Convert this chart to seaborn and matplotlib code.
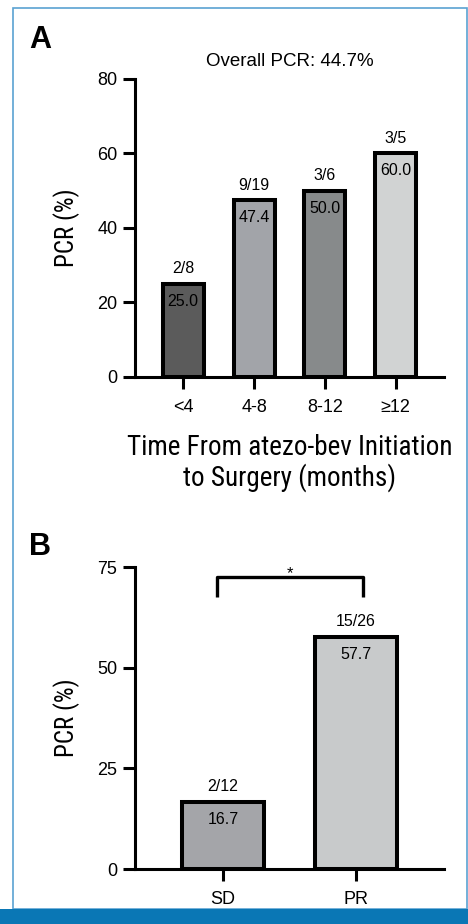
"""Pathologic complete response by time to surgery (A) and by radiologic response (B)."""

import matplotlib

matplotlib.use("Agg")
import matplotlib.pyplot as plt
import matplotlib.patches as mpatches
import seaborn as sns

# ---- data ---------------------------------------------------------------------
A_GROUPS = ["<4", "4-8", "8-12", "≥12"]
A_PCR = [25.0, 47.4, 50.0, 60.0]
A_COUNTS = ["2/8", "9/19", "3/6", "3/5"]
A_COLORS = ["#5b5b5b", "#a2a4a9", "#878a8b", "#d1d3d3"]

B_GROUPS = ["SD", "PR"]
B_PCR = [16.7, 57.7]
B_COUNTS = ["2/12", "15/26"]
B_COLORS = ["#a4a5a9", "#c8cacb"]

OVERALL = "Overall PCR: 44.7%"
A_XLABEL = "Time From atezo-bev Initiation\nto Surgery (months)"
YLABEL = "PCR (%)"

sns.set_theme(style="white")
plt.rcParams["font.family"] = ["Liberation Sans", "DejaVu Sans"]
plt.rcParams["text.color"] = "black"
plt.rcParams["axes.labelcolor"] = "black"
# condensed face for the axis titles
NARROW = dict(family=["Roboto Condensed", "DejaVu Sans"], stretch="condensed")

W, H = 468, 924
fig = plt.figure(figsize=(W / 100, H / 100), dpi=100)


def style_axis(ax):
    for s in ("top", "right"):
        ax.spines[s].set_visible(False)
    for s in ("left", "bottom"):
        ax.spines[s].set_linewidth(2.2)
        ax.spines[s].set_color("black")
    ax.tick_params(axis="both", bottom=True, left=True, length=8.6, width=2.2,
                   color="black", labelcolor="black", labelsize=13)
    ax.tick_params(axis="x", pad=7)
    ax.tick_params(axis="y", pad=4)


def bar_labels(ax, values, counts):
    for i, (v, c) in enumerate(zip(values, counts)):
        ax.annotate(c, (i, v), xytext=(0, 11), textcoords="offset points",
                    ha="center", va="center", fontsize=11.5)
        ax.annotate(f"{v:.1f}", (i, v), xytext=(0, -12.5), textcoords="offset points",
                    ha="center", va="center", fontsize=11.5)


# ---- panel A ------------------------------------------------------------------
axA = fig.add_axes([135 / W, 1 - 377 / H, 309 / W, 298 / H])
sns.barplot(x=A_GROUPS, y=A_PCR, hue=A_GROUPS, palette=A_COLORS, legend=False,
            width=0.58, edgecolor="black", linewidth=2.9, saturation=1, ax=axA)
axA.set_ylim(0, 80)
axA.set_yticks([0, 20, 40, 60, 80])
axA.set_xlim(-0.68, 3.68)
style_axis(axA)
bar_labels(axA, A_PCR, A_COUNTS)
axA.text(0.5, 1.06, OVERALL, transform=axA.transAxes, ha="center", va="center",
         fontsize=13.5)
axA.set_ylabel(YLABEL, fontsize=18, **NARROW)
axA.yaxis.set_label_coords(-0.177, 0.5)
axA.set_xlabel(A_XLABEL, fontsize=19.5, linespacing=1.1, **NARROW)
axA.xaxis.set_label_coords(0.5, -0.192)

# ---- panel B ------------------------------------------------------------------
axB = fig.add_axes([135 / W, 1 - 869 / H, 309 / W, 302 / H])
sns.barplot(x=B_GROUPS, y=B_PCR, hue=B_GROUPS, palette=B_COLORS, legend=False,
            width=0.62, edgecolor="black", linewidth=2.9, saturation=1, ax=axB)
axB.set_ylim(0, 75)
axB.set_yticks([0, 25, 50, 75])
axB.set_xlim(-0.66, 1.66)
style_axis(axB)
bar_labels(axB, B_PCR, B_COUNTS)
axB.set_ylabel(YLABEL, fontsize=18, **NARROW)
axB.yaxis.set_label_coords(-0.177, 0.5)
axB.set_xlabel("")

# significance bracket
axB.plot([-0.045, -0.045, 1.053, 1.053], [67.5, 72.5, 72.5, 67.5], color="black",
         lw=2.4, clip_on=False, solid_capstyle="butt")
axB.text(0.5, 72.2, "*", ha="center", va="baseline", fontsize=12)

# panel letters
fig.text(29 / W, 1 - 40 / H, "A", fontsize=22, fontweight="bold", va="center", ha="left")
fig.text(29 / W, 1 - 547 / H, "B", fontsize=22, fontweight="bold", va="center", ha="left")

# frame and footer band
fig.patches.append(mpatches.Rectangle((13 / W, 1 - 909 / H), 454 / W, 901 / H,
                                      transform=fig.transFigure, fill=False,
                                      edgecolor="#5aa2d2", lw=1.2))
fig.patches.append(mpatches.Rectangle((0, 0), 1, 15 / H, transform=fig.transFigure,
                                      facecolor="#0a77b5", edgecolor="none"))

fig.savefig("out.png", dpi=100)
